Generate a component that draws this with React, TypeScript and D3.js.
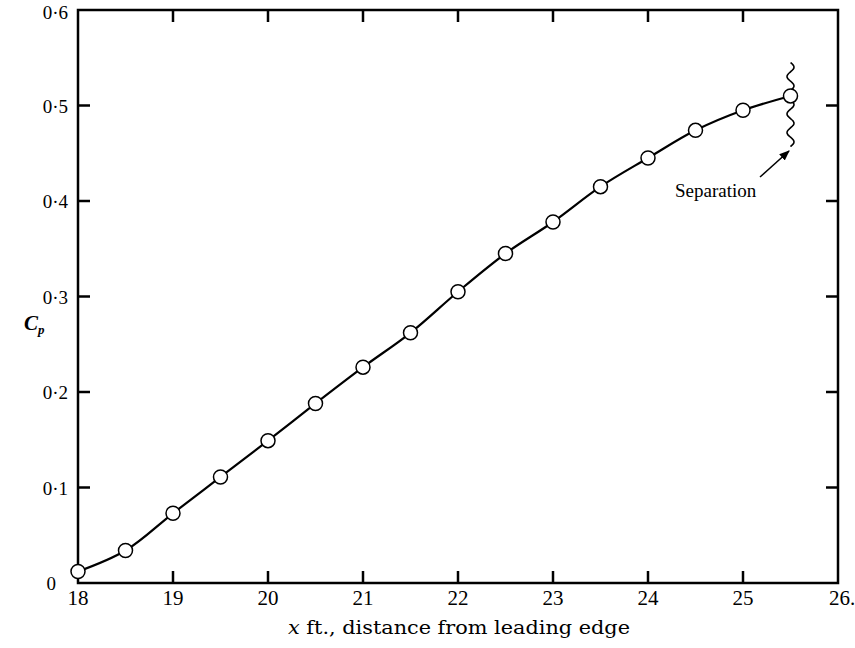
import React from "react";
import * as d3 from "d3";

const xValues = [18, 18.5, 19, 19.5, 20, 20.5, 21, 21.5, 22, 22.5, 23, 23.5, 24, 24.5, 25, 25.5];
const cpValues = [0.012, 0.034, 0.073, 0.111, 0.149, 0.188, 0.226, 0.262, 0.305, 0.345, 0.378, 0.415, 0.445, 0.474, 0.495, 0.51];
const xTickValues = [18, 19, 20, 21, 22, 23, 24, 25, 26];
const xTickLabels = ["18", "19", "20", "21", "22", "23", "24", "25", "26."];
const yTickValues = [0, 0.1, 0.2, 0.3, 0.4, 0.5, 0.6];
const yTickLabels = ["0", "0·1", "0·2", "0·3", "0·4", "0·5", "0·6"];
const separationX = 25.5;
const separationRange = [0.457, 0.545];

const W = 855;
const H = 648;
const M = { left: 78, right: 838, top: 10, bottom: 583 };

export default function App() {
  const x = d3.scaleLinear().domain([18, 26]).range([M.left, M.right]);
  const y = d3.scaleLinear().domain([0, 0.6]).range([M.bottom, M.top]);
  const pts: [number, number][] = xValues.map((v, i) => [x(v), y(cpValues[i])]);
  const line = d3.line<[number, number]>().x(d => d[0]).y(d => d[1]).curve(d3.curveCatmullRom.alpha(0.5));
  const tickLen = 12;

  const sx = x(separationX);
  const y0 = y(separationRange[1]);
  const y1 = y(separationRange[0]);
  const wave: [number, number][] = [];
  const n = 120;
  const periods = 4.5;
  for (let i = 0; i <= n; i++) {
    const t = i / n;
    const yy = y0 + t * (y1 - y0);
    wave.push([sx + 3.5 * Math.sin(t * periods * 2 * Math.PI), yy]);
  }
  const waveLine = d3.line<[number, number]>().x(d => d[0]).y(d => d[1]).curve(d3.curveBasis);

  const font = "'Liberation Serif', 'Times New Roman', serif";

  return (
    <svg width={W} height={H} style={{ position: "absolute", left: 0, top: 0, background: "#fff" }}>
      <defs>
        <marker id="arr" viewBox="0 0 10 10" refX="9" refY="5" markerWidth="7" markerHeight="7" orient="auto">
          <path d="M0,1 L10,5 L0,9 z" fill="#000" />
        </marker>
      </defs>
      <rect x={M.left} y={M.top} width={M.right - M.left} height={M.bottom - M.top} fill="none" stroke="#000" strokeWidth={2.5} />
      {xTickValues.slice(1, -1).map(v => (
        <g key={"xt" + v}>
          <line x1={x(v)} x2={x(v)} y1={M.bottom} y2={M.bottom - tickLen} stroke="#000" strokeWidth={2.5} />
          <line x1={x(v)} x2={x(v)} y1={M.top} y2={M.top + tickLen} stroke="#000" strokeWidth={2.5} />
        </g>
      ))}
      {yTickValues.slice(1, -1).map(v => (
        <g key={"yt" + v}>
          <line x1={M.left} x2={M.left + tickLen} y1={y(v)} y2={y(v)} stroke="#000" strokeWidth={2.5} />
          <line x1={M.right} x2={M.right - tickLen} y1={y(v)} y2={y(v)} stroke="#000" strokeWidth={2.5} />
        </g>
      ))}
      {xTickValues.map((v, i) => (
        <text key={"xl" + v} x={x(v) + (i === xTickValues.length - 1 ? 4 : 0)} y={605} textAnchor="middle" fontFamily={font} fontSize={21}>
          {xTickLabels[i]}
        </text>
      ))}
      {yTickValues.map((v, i) => (
        <text key={"yl" + v} x={i === 0 ? 56 : 68} y={Math.max(y(v) + 7, 19)} textAnchor="end" fontFamily={font} fontSize={19}>
          {yTickLabels[i]}
        </text>
      ))}
      <text x={459} y={634} textAnchor="middle" fontFamily="'DejaVu Serif', serif" fontSize={18} textLength={342} lengthAdjust="spacingAndGlyphs">
        <tspan fontStyle="italic">x</tspan> ft., distance from leading edge
      </text>
      <text x={24} y={330} fontFamily={font} fontSize={21} fontStyle="italic" fontWeight="bold">
        C<tspan fontSize={13} dy={4}>p</tspan>
      </text>
      <path d={line(pts) || ""} fill="none" stroke="#000" strokeWidth={2.2} />
      <path d={waveLine(wave) || ""} fill="none" stroke="#000" strokeWidth={1.6} />
      {pts.map((p, i) => (
        <circle key={"c" + i} cx={p[0]} cy={p[1]} r={7} fill="#fff" stroke="#000" strokeWidth={1.5} />
      ))}
      <line x1={760} y1={177} x2={789} y2={151} stroke="#000" strokeWidth={1.5} markerEnd="url(#arr)" />
      <text x={675} y={197} fontFamily={font} fontSize={19}>Separation</text>
    </svg>
  );
}
